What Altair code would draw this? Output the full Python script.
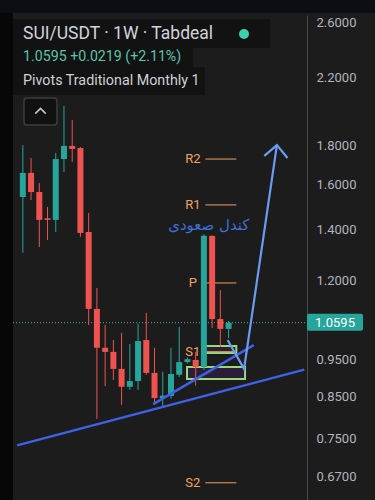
import altair as alt
import pandas as pd

# ---- data (weekly SUI/USDT candles) ----
opens  = [1.542, 1.657, 1.565, 1.447, 1.440, 1.727, 1.796, 1.785, 1.389, 1.104, 0.983, 0.971, 0.923,
          0.875, 0.890, 1.006, 0.912, 0.846, 0.8515, 0.907, 0.942, 0.948, 0.928, 1.373, 1.071, 1.040]
closes = [1.657, 1.565, 1.440, 1.440, 1.727, 1.796, 1.780, 1.385, 1.104, 0.983, 0.971, 0.923, 0.875,
          0.890, 1.003, 0.912, 0.846, 0.852, 0.909, 0.942, 0.950, 0.928, 1.373, 1.071, 1.040, 1.0595]
highs  = [1.800, 1.732, 1.608, 1.497, 1.759, 2.023, 1.941, 1.790, 1.470, 1.175, 1.052, 1.006, 1.028,
          0.994, 1.056, 1.091, 0.983, 0.915, 0.983, 1.046, 0.955, 0.971, 1.380, 1.375, 1.168, 1.065]
lows   = [1.305, 1.528, 1.328, 1.356, 1.389, 1.661, 1.712, 1.369, 1.052, 0.795, 0.877, 0.893, 0.829,
          0.867, 0.867, 0.907, 0.829, 0.824, 0.844, 0.901, 0.938, 0.878, 0.920, 1.043, 0.986, 1.012]

y_ticks = [0.67, 0.75, 0.85, 0.95, 1.2, 1.4, 1.6, 1.8, 2.2, 2.6]
last_price = 1.0595

pivot_names = ["R2", "R1", "P", "S1", "S2"]
pivot_levels = [1.727, 1.506, 1.193, 0.972, 0.657]
pivot_start, pivot_end, pivot_label_x = 22.18, 25.94, 20.66

# drawn lines (bar index, price)
trend_i = [-0.7, 34.2]
trend_p = [0.7345, 0.921]
short_i = [15.85, 28.05]
short_p = [0.831, 0.991]
arrow_i = [24.88, 26.88, 30.87]
arrow_p = [1.006, 0.923, 1.80]
head_i = [29.34, 30.87, 32.16]
head_p = [1.743, 1.80, 1.732]

box_i0 = [21.95, 19.95]
box_i1 = [25.94, 27.0]
box_top = [0.9885, 0.928]
box_bot = [0.968, 0.8957]

note_text = "کندل صعودی"
note_i, note_p = 22.6, 1.418

# ---- tables ----
candles = pd.DataFrame({
    "idx": list(range(len(opens))), "open": opens, "close": closes,
    "high": highs, "low": lows,
})
candles["dir"] = ["up" if c >= o else "down" for o, c in zip(opens, closes)]

pivots = pd.DataFrame({"name": pivot_names, "p": pivot_levels,
                       "i0": pivot_start, "i1": pivot_end, "il": pivot_label_x})
lines = pd.DataFrame(
    [{"g": "trend", "o": k, "i": a, "p": b} for k, (a, b) in enumerate(zip(trend_i, trend_p))]
    + [{"g": "short", "o": k, "i": a, "p": b} for k, (a, b) in enumerate(zip(short_i, short_p))]
)
arrows = pd.DataFrame(
    [{"g": "arrow", "o": k, "i": a, "p": b} for k, (a, b) in enumerate(zip(arrow_i, arrow_p))]
    + [{"g": "head", "o": k, "i": a, "p": b} for k, (a, b) in enumerate(zip(head_i, head_p))]
)
boxes = pd.DataFrame({"i0": box_i0, "i1": box_i1, "top": box_top, "bot": box_bot})
note = pd.DataFrame({"t": [note_text], "i": [note_i], "p": [note_p]})
price = pd.DataFrame({"p": [last_price], "t": [f"{last_price:.4f}"]})
one = pd.DataFrame({"a": [0]})

xs = alt.Scale(domain=[-0.587, 33.92], nice=False, zero=False)
ys = alt.Scale(type="log", domain=[0.624, 2.655], nice=False, zero=False)
yaxis = alt.Axis(orient="right", values=y_ticks, format=".4f", title=None, grid=False,
                 tickSize=0, labelPadding=9, labelColor="#b2b5be", labelFont="Roboto",
                 labelFontSize=13, domainColor="#4a4a4a", domainWidth=1, labelFlush=False)


def X(f):
    return alt.X(f, type="quantitative", scale=xs, axis=None)


def Y(f):
    return alt.Y(f, type="quantitative", scale=ys, axis=yaxis)


col = alt.Color("dir:N", scale=alt.Scale(domain=["up", "down"], range=["#26a69a", "#ef5350"]), legend=None)

# ---- layers ----
left_strip = alt.Chart(one).mark_rect(color="#070707", clip=False).encode(
    x=alt.value(-13), x2=alt.value(0), y=alt.value(-15), y2=alt.value(485))
top_band = alt.Chart(one).mark_rect(color="#0c0e14", clip=False).encode(
    x=alt.value(-13), x2=alt.value(362), y=alt.value(-15), y2=alt.value(-2))

pivot_rules = alt.Chart(pivots).mark_rule(color="#c98a52", strokeWidth=1.2).encode(
    x=X("i0"), x2="i1", y=Y("p"))
pivot_labels = alt.Chart(pivots).mark_text(color="#f0a262", font="Roboto", fontSize=13,
                                           align="center", baseline="middle").encode(
    x=X("il"), y=Y("p"), text="name:N")

box_layer = alt.Chart(boxes).mark_rect(fill="#2c1f3c", fillOpacity=0.9, stroke="#9ad67a",
                                       strokeWidth=2).encode(
    x=X("i0"), x2="i1", y=Y("top"), y2="bot")

price_rule = alt.Chart(price).mark_rule(color="#5f9e94", strokeDash=[1, 2], strokeWidth=1).encode(
    y=Y("p"), x=alt.value(0), x2=alt.value(294))

wicks = alt.Chart(candles).mark_rule(strokeWidth=1).encode(
    x=X("idx"), y=Y("low"), y2="high", color=col)
bodies = alt.Chart(candles).mark_bar(size=6).encode(
    x=X("idx"), y=Y("open"), y2="close", color=col)

trend_lines = alt.Chart(lines).mark_line(color="#3d62e6", strokeWidth=2.5, clip=True).encode(
    x=X("i"), y=Y("p"), detail="g:N", order="o:Q")
arrow_lines = alt.Chart(arrows).mark_line(color="#6a9cf2", strokeWidth=2.2, clip=True).encode(
    x=X("i"), y=Y("p"), detail="g:N", order="o:Q")

note_layer = alt.Chart(note).mark_text(color="#3f6fd8", font="DejaVu Sans", fontSize=15,
                                       align="center", baseline="middle").encode(
    x=X("i"), y=Y("p"), text="t:N")

# header overlay
hdr1 = alt.Chart(one).mark_rect(color="#121212", clip=False).encode(
    x=alt.value(0), x2=alt.value(257), y=alt.value(4), y2=alt.value(33))
hdr2 = alt.Chart(one).mark_rect(color="#121212", clip=False).encode(
    x=alt.value(0), x2=alt.value(180), y=alt.value(33), y2=alt.value(52))
hdr3 = alt.Chart(one).mark_rect(color="#121212", clip=False).encode(
    x=alt.value(0), x2=alt.value(192), y=alt.value(52), y2=alt.value(80))
t1 = alt.Chart(one).mark_text(text="SUI/USDT · 1W · Tabdeal", color="#d1d4dc", font="Roboto",
                              fontSize=17.5, align="left", baseline="middle").encode(
    x=alt.value(10), y=alt.value(19))
dot = alt.Chart(one).mark_circle(color="#3ecfae", opacity=1, size=100).encode(
    x=alt.value(231), y=alt.value(19))
t2 = alt.Chart(one).mark_text(text="1.0595  +0.0219 (+2.11%)", color="#5cc4ac", font="Roboto",
                              fontSize=14.2, align="left", baseline="middle").encode(
    x=alt.value(10), y=alt.value(42))
t3 = alt.Chart(one).mark_text(text="Pivots Traditional Monthly 1", color="#cfd1d6", font="Roboto",
                              fontSize=14.3, align="left", baseline="middle").encode(
    x=alt.value(10), y=alt.value(66))
btn = alt.Chart(one).mark_rect(fill="#111111", stroke="#3c3c3c", strokeWidth=1.5, cornerRadius=3,
                               clip=False).encode(
    x=alt.value(11), x2=alt.value(44), y=alt.value(83), y2=alt.value(110))
chev = alt.Chart(one).mark_point(shape="M -1 0.5 L 0 -0.5 L 1 0.5", filled=False, stroke="#c8c8c8",
                                 strokeWidth=1.5, size=110, opacity=1).encode(
    x=alt.value(27.5), y=alt.value(96))

price_box = alt.Chart(price).mark_rect(color="#26a69a", cornerRadius=2, yOffset=-9, y2Offset=8,
                                       clip=False).encode(
    y=Y("p"), y2="p", x=alt.value(294), x2=alt.value(350))
price_txt = alt.Chart(price).mark_text(color="#ffffff", font="Roboto", fontSize=13,
                                       align="center", baseline="middle").encode(
    y=Y("p"), x=alt.value(322), text="t:N")

chart = alt.layer(
    left_strip, top_band, box_layer, pivot_rules, pivot_labels, price_rule, wicks, bodies,
    trend_lines, arrow_lines, note_layer, hdr1, hdr2, hdr3, t1, dot, t2, t3, btn, chev,
    price_box, price_txt
).properties(
    width=294, height=485,
    padding={"left": 13, "top": 15, "right": 68, "bottom": 0},
    autosize=alt.AutoSizeParams(type="none"),
    background="#1c1c1c",
).configure_view(stroke=None)

chart.save("out.html", embed_options={"renderer": "svg", "actions": False})
